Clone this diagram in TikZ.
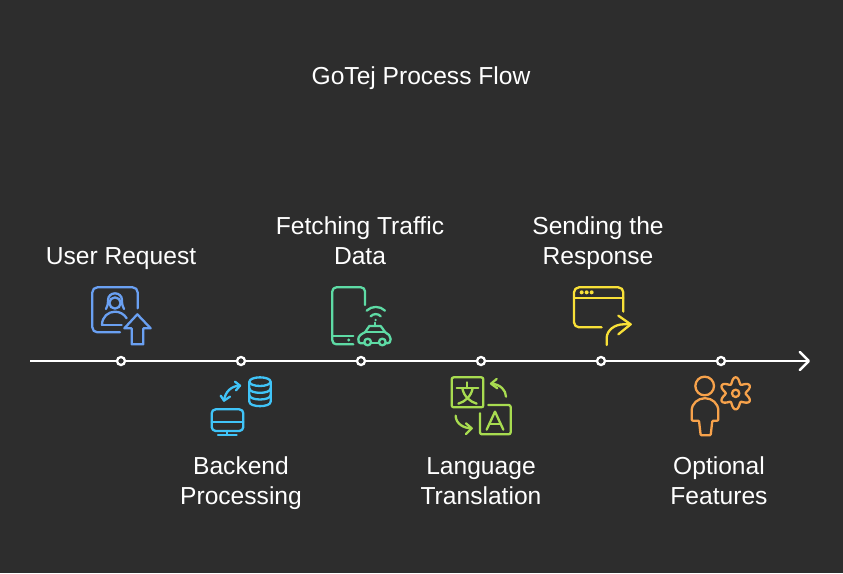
\documentclass[tikz,border=0pt]{standalone}
\usepackage{fontspec}
\setmainfont{Liberation Sans}
\usetikzlibrary{arrows.meta}
\definecolor{bgc}{HTML}{2D2D2D}
\definecolor{cblue}{HTML}{6AA0F2}
\definecolor{ccyan}{HTML}{40C4F8}
\definecolor{cgreen}{HTML}{5EDBA5}
\definecolor{clime}{HTML}{A8DC50}
\definecolor{cyel}{HTML}{F8E038}
\definecolor{corg}{HTML}{F7A24B}
\tikzset{
  axisline/.style={draw=white,line width=2.4pt,-{Straight Barb[length=9pt,width=18pt,line width=2.4pt,round]}},
  dot/.style={circle,draw=white,fill=bgc,line width=2.3pt,minimum size=8pt,inner sep=0pt},
  label/.style={text=white,align=center,font=\fontsize{24.6}{30}\selectfont,inner sep=0pt},
  ico/.style={line width=2.3pt,line cap=round,line join=round},
}
\begin{document}
\begin{tikzpicture}[x=1pt,y=-1pt]
\useasboundingbox[fill=bgc] (0,0) rectangle (843,573);
\node[label] (title) at (421,78) {GoTej Process Flow};
\coordinate (axstart) at (30,361);
\coordinate (axend) at (810,361);
\draw[axisline] (axstart) -- (axend);
\node[dot] (d1) at (121,361) {};
\node[dot] (d2) at (241,361) {};
\node[dot] (d3) at (361,361) {};
\node[dot] (d4) at (481,361) {};
\node[dot] (d5) at (601,361) {};
\node[dot] (d6) at (721,361) {};
\node[label] (l1) at (121,258.5) {User Request};
\node[label] (l2) at (241,483.5) {Backend\\Processing};
\node[label] (l3) at (360,240.5) {Fetching Traffic\\Data};
\node[label] (l4) at (481,481.5) {Language\\Translation};
\node[label] (l5) at (598,243.5) {Sending the\\Response};
\node[label] (l6) at (719,480.5) {Optional\\Features};
% user request icon
\begin{scope}[shift={(80,275)},x=0.3333pt,y=-0.3333pt,ico,draw=cblue]
\draw[rounded corners=5pt] (173,100) -- (173,37) -- (37,37) -- (37,172) -- (120,172);
\draw (105,84) circle (17);
\draw (84,76) .. controls (84,48) and (126,48) .. (126,76) .. controls (126,88) and (128,95) .. (132,102);
\draw (84,76) .. controls (84,88) and (82,95) .. (78,102);
\draw (66,150) -- (125,150);
\draw (66,150) .. controls (66,125) and (85,110) .. (105,110) .. controls (120,110) and (133,118) .. (140,130);
\draw (172,118) -- (133,160) -- (155,160) -- (155,208) -- (190,208) -- (190,160) -- (212,160) -- cycle;
\end{scope}
% backend icon
\begin{scope}[shift={(200,355)},x=0.3333pt,y=-0.3333pt,ico,draw=ccyan]
\draw (180,80) ellipse (32 and 13);
\draw (148,80) -- (148,140) .. controls (148,158) and (212,158) .. (212,140) -- (212,80);
\draw (148,100) .. controls (148,118) and (212,118) .. (212,100);
\draw (148,120) .. controls (148,138) and (212,138) .. (212,120);
\draw[rounded corners=4pt] (35,163) rectangle (130,228);
\draw (35,200) -- (130,200);
\draw (82,228) -- (82,240);
\draw (54,240) -- (110,240);
\draw (120,92) .. controls (95,92) and (75,110) .. (72,137);
\draw (105,80) -- (120,92) -- (108,106);
\draw (62,122) -- (72,137) -- (90,125);
\end{scope}
% traffic icon
\begin{scope}[shift={(320,275)},x=0.3333pt,y=-0.3333pt,ico,draw=cgreen]
\draw[rounded corners=4pt] (135,90) -- (135,37) -- (37,37) -- (37,208) -- (100,208);
\draw (37,182) -- (100,182);
\fill[cgreen] (86,195) circle (5);
\draw (140,107) .. controls (155,92) and (180,92) .. (195,107);
\draw (152,124) .. controls (160,115) and (175,115) .. (182,124);
\fill[cgreen] (167,135) circle (4);
\draw (132,205) -- (122,205) .. controls (116,205) and (115,200) .. (115,192) .. controls (115,183) and (125,176) .. (135,172) -- (148,153) -- (182,153) -- (196,172) .. controls (205,176) and (212,183) .. (212,192) .. controls (212,200) and (210,205) .. (198,205);
\draw (154,205) -- (176,205);
\draw (143,201) circle (10);
\draw (187,201) circle (10);
\draw (135,172) -- (196,172);
\draw (165,143) -- (165,153);
\end{scope}
% translation icon
\begin{scope}[shift={(440,355)},x=0.3333pt,y=-0.3333pt,ico,draw=clime]
\draw[rounded corners=2pt] (35,67) rectangle (130,157);
\draw (50,100) -- (115,100);
\draw (82,82) -- (82,100);
\draw (67,100) .. controls (72,125) and (90,140) .. (110,146);
\draw (98,100) .. controls (93,125) and (75,140) .. (55,146);
\draw (198,125) .. controls (198,105) and (180,88) .. (155,86);
\draw (170,72) -- (153,86) -- (172,100);
\draw (47,182) .. controls (47,205) and (70,220) .. (95,220);
\draw (78,205) -- (95,220) -- (78,237);
\draw[rounded corners=2pt] (145,150) -- (212,150) -- (212,238) -- (120,238) -- (120,175);
\draw (140,224) -- (165,170) -- (190,224);
\draw (148,206) -- (182,206);
\end{scope}
% response icon
\begin{scope}[shift={(560,275)},x=0.3333pt,y=-0.3333pt,ico,draw=cyel]
\draw[rounded corners=5pt] (190,110) -- (190,37) -- (42,37) -- (42,157) -- (125,157);
\draw (42,68) -- (190,68);
\fill[cyel] (65,52) circle (6) (80,52) circle (6) (95,52) circle (6);
\draw (140,210) -- (140,190) .. controls (140,165) and (165,148) .. (190,148) -- (212,148);
\draw (175,122) -- (212,148) -- (175,178);
\end{scope}
% options icon
\begin{scope}[shift={(680,350)},x=0.3333pt,y=-0.3333pt,ico,draw=corg]
\draw (74,108) circle (28);
\draw[rounded corners=1pt] (57,212) -- (62,256) -- (92,256) -- (97,212) -- (115,212) -- (115,185) .. controls (115,160) and (95,145) .. (75,145) .. controls (55,145) and (35,160) .. (35,185) -- (35,212) -- cycle;
\draw (167,130) circle (11);
\draw plot[domain=0:360,samples=145,smooth] ({167+(39-9*cos(6*\x))*cos(\x)},{130+(39-9*cos(6*\x))*sin(\x)}) -- cycle;
\end{scope}
\end{tikzpicture}
\end{document}
